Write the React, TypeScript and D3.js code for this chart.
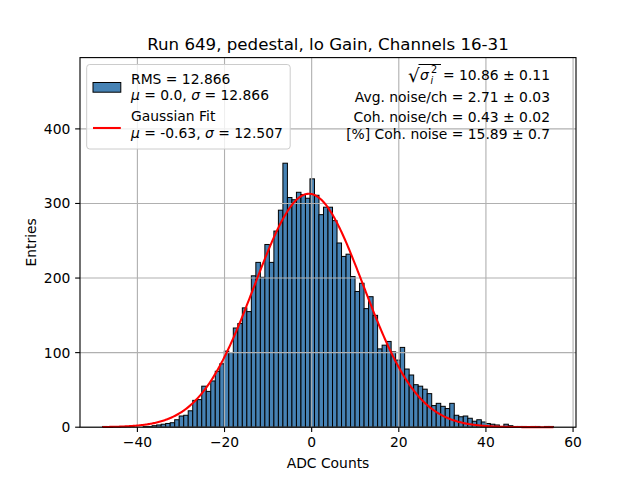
import React from "react";
import * as d3 from "d3";

const binMin = -48.0;
const binWidth = 1.035;
const counts = [
  1, 0, 0, 0, 0, 0, 0, 0, 0, 1,
  1, 2, 3, 4, 5, 6, 10, 15, 16, 22,
  36, 37, 55, 48, 62, 75, 85, 102, 100, 133,
  139, 160, 155, 203, 221, 201, 245, 221, 263, 291,
  354, 308, 305, 315, 312, 307, 333, 311, 285, 295,
  295, 277, 247, 229, 232, 202, 182, 193, 159, 175,
  150, 105, 110, 115, 101, 90, 107, 78, 70, 57,
  55, 51, 45, 29, 32, 28, 25, 32, 16, 14,
  15, 12, 8, 10, 7, 5, 4, 3, 1, 4,
  2, 1, 1, 1, 0, 1, 1, 0, 1, 1,
];
const fitAmp = 313;
const fitMu = -0.63;
const fitSigma = 12.507;
const xTicks = [-40, -20, 0, 20, 40, 60];
const yTicks = [0, 100, 200, 300, 400];
const title = "Run 649, pedestal, lo Gain, Channels 16-31";
const infoLines = [
  "Avg. noise/ch = 2.71 ± 0.03",
  "Coh. noise/ch = 0.43 ± 0.02",
  "[%] Coh. noise = 15.89 ± 0.7",
];

const W = 640, H = 480;
const L = 80, R = 576, T = 57.6, B = 427.2;
const FONT = "DejaVu Sans, sans-serif";
const LW = 1.11;
const TL = 4.86;

export default function App() {
  const binMax = binMin + binWidth * counts.length;
  const span = binMax - binMin;
  const xs = d3.scaleLinear().domain([binMin - 0.05 * span, binMax + 0.05 * span]).range([L, R]);
  const maxC = d3.max(counts) as number;
  const ys = d3.scaleLinear().domain([0, 1.4 * maxC]).range([B, T]);

  const fitPts = d3.range(0, 501).map((k) => {
    const x = binMin + (span * k) / 500;
    return [x, fitAmp * Math.exp(-((x - fitMu) ** 2) / (2 * fitSigma ** 2))] as [number, number];
  });
  const line = d3.line<[number, number]>().x((d) => xs(d[0])).y((d) => ys(d[1]));

  const fs = 13.89;
  return (
    <svg width={W} height={H} style={{ position: "absolute", left: 0, top: 0, background: "white" }} fontFamily={FONT}>
      <rect x={0} y={0} width={W} height={H} fill="white" />
      {counts.map((c, i) =>
        c > 0 ? (
          <rect
            key={i}
            x={xs(binMin + i * binWidth)}
            y={ys(c)}
            width={xs(binMin + (i + 1) * binWidth) - xs(binMin + i * binWidth)}
            height={B - ys(c)}
            fill="#4682b4"
            stroke="black"
            strokeWidth={1}
          />
        ) : null
      )}
      {xTicks.map((t) => (
        <line key={"gx" + t} x1={xs(t)} x2={xs(t)} y1={T} y2={B} stroke="#b0b0b0" strokeWidth={LW} />
      ))}
      {yTicks.map((t) => (
        <line key={"gy" + t} x1={L} x2={R} y1={ys(t)} y2={ys(t)} stroke="#b0b0b0" strokeWidth={LW} />
      ))}
      <path d={line(fitPts) || ""} fill="none" stroke="red" strokeWidth={2.08} />
      <rect x={L} y={T} width={R - L} height={B - T} fill="none" stroke="black" strokeWidth={LW} />
      {xTicks.map((t) => (
        <g key={"tx" + t}>
          <line x1={xs(t)} x2={xs(t)} y1={B} y2={B + TL} stroke="black" strokeWidth={LW} />
          <text x={xs(t)} y={B + 20} textAnchor="middle" fontSize={fs}>
            {t < 0 ? "\u2212" + Math.abs(t) : String(t)}
          </text>
        </g>
      ))}
      {yTicks.map((t) => (
        <g key={"ty" + t}>
          <line x1={L - TL} x2={L} y1={ys(t)} y2={ys(t)} stroke="black" strokeWidth={LW} />
          <text x={L - 9.7} y={ys(t) + 5} textAnchor="end" fontSize={fs}>
            {t}
          </text>
        </g>
      ))}
      <text x={(L + R) / 2} y={467.5} textAnchor="middle" fontSize={fs}>ADC Counts</text>
      <text transform={`translate(35.5,${(T + B) / 2}) rotate(-90)`} textAnchor="middle" fontSize={fs}>Entries</text>
      <text x={(L + R) / 2} y={49.5} textAnchor="middle" fontSize={16.67}>{title}</text>

      {/* legend */}
      <rect x={86.7} y={64.5} width={203.5} height={84.5} rx={3} fill="white" fillOpacity={0.8} stroke="#cccccc" strokeWidth={1} />
      <rect x={93} y={82.5} width={27.8} height={9.7} fill="#4682b4" stroke="black" strokeWidth={1} />
      <text x={131} y={84} fontSize={fs}>RMS = 12.866</text>
      <text x={131} y={100} fontSize={fs}>
        <tspan fontStyle="italic">μ</tspan> = 0.0, <tspan fontStyle="italic">σ</tspan> = 12.866
      </text>
      <line x1={93} x2={120.8} y1={128} y2={128} stroke="red" strokeWidth={2.08} />
      <text x={131} y={121} fontSize={fs}>Gaussian Fit</text>
      <text x={131} y={138} fontSize={fs}>
        <tspan fontStyle="italic">μ</tspan> = -0.63, <tspan fontStyle="italic">σ</tspan> = 12.507
      </text>

      {/* info text */}
      <text x={408} y={82} fontSize={18.5}>√</text>
      <line x1={418.5} x2={441} y1={64.5} y2={64.5} stroke="black" strokeWidth={1} />
      <text x={420} y={80} fontSize={fs} fontStyle="italic">σ</text>
      <text x={431} y={73} fontSize={9.7}>2</text>
      <text x={430.5} y={84} fontSize={9.7} fontStyle="italic">i</text>
      <text x={550} y={80} textAnchor="end" fontSize={fs}>= 10.86 ± 0.11</text>
      {infoLines.map((s, i) => (
        <text key={s} x={550} y={[102, 122, 139][i]} textAnchor="end" fontSize={fs}>{s}</text>
      ))}
    </svg>
  );
}
